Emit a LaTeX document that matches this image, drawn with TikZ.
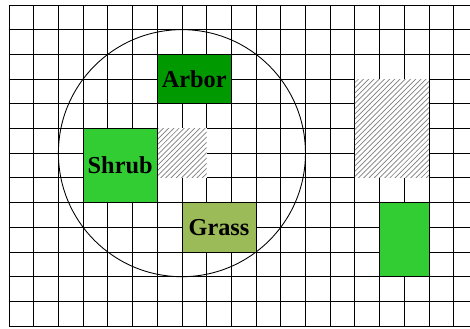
\documentclass[tikz,border=0pt]{standalone}
\usepackage{fontspec}
\setmainfont{Liberation Serif}
\usetikzlibrary{patterns}
\definecolor{arborgreen}{RGB}{0,153,0}
\definecolor{shrubgreen}{RGB}{50,205,50}
\definecolor{grassgreen}{RGB}{155,187,89}
\begin{document}
\begin{tikzpicture}[x=0.5cm,y=0.5cm,
  gridline/.style={draw=black, line width=0.5pt},
  box/.style={draw=black, line width=0.5pt, anchor=south west, inner sep=0pt, outer sep=0pt,
    font=\fontsize{14}{16}\selectfont\bfseries},
  hatchbox/.style={anchor=south west, inner sep=0pt, outer sep=0pt, fill=white,
    postaction={pattern=north east lines, pattern color=gray}}]
\useasboundingbox (-0.364,-0.08) rectangle (18.66,13.2);
\clip (-0.364,-0.08) rectangle (18.66,13.2);
\draw[gridline, step=0.5cm] (0,0) grid (19.5,13);
\node[draw=black, line width=0.5pt, circle, minimum size=5cm, inner sep=0pt] (crown) at (7,7) {};
\node[hatchbox, minimum width=1cm, minimum height=1cm] (gapa) at (6,6) {};
\node[hatchbox, minimum width=1.5cm, minimum height=2cm] (gapb) at (14,6) {};
\node[box, fill=arborgreen, minimum width=1.5cm, minimum height=1cm] (arbor) at (6,9) {Arbor};
\node[box, fill=shrubgreen, minimum width=1.5cm, minimum height=1.5cm] (shrub) at (3,5) {Shrub};
\node[box, fill=grassgreen, minimum width=1.5cm, minimum height=1cm] (grass) at (7,3) {Grass};
\node[box, fill=shrubgreen, minimum width=1cm, minimum height=1.5cm] (plot) at (15,2) {};
\end{tikzpicture}
\end{document}
